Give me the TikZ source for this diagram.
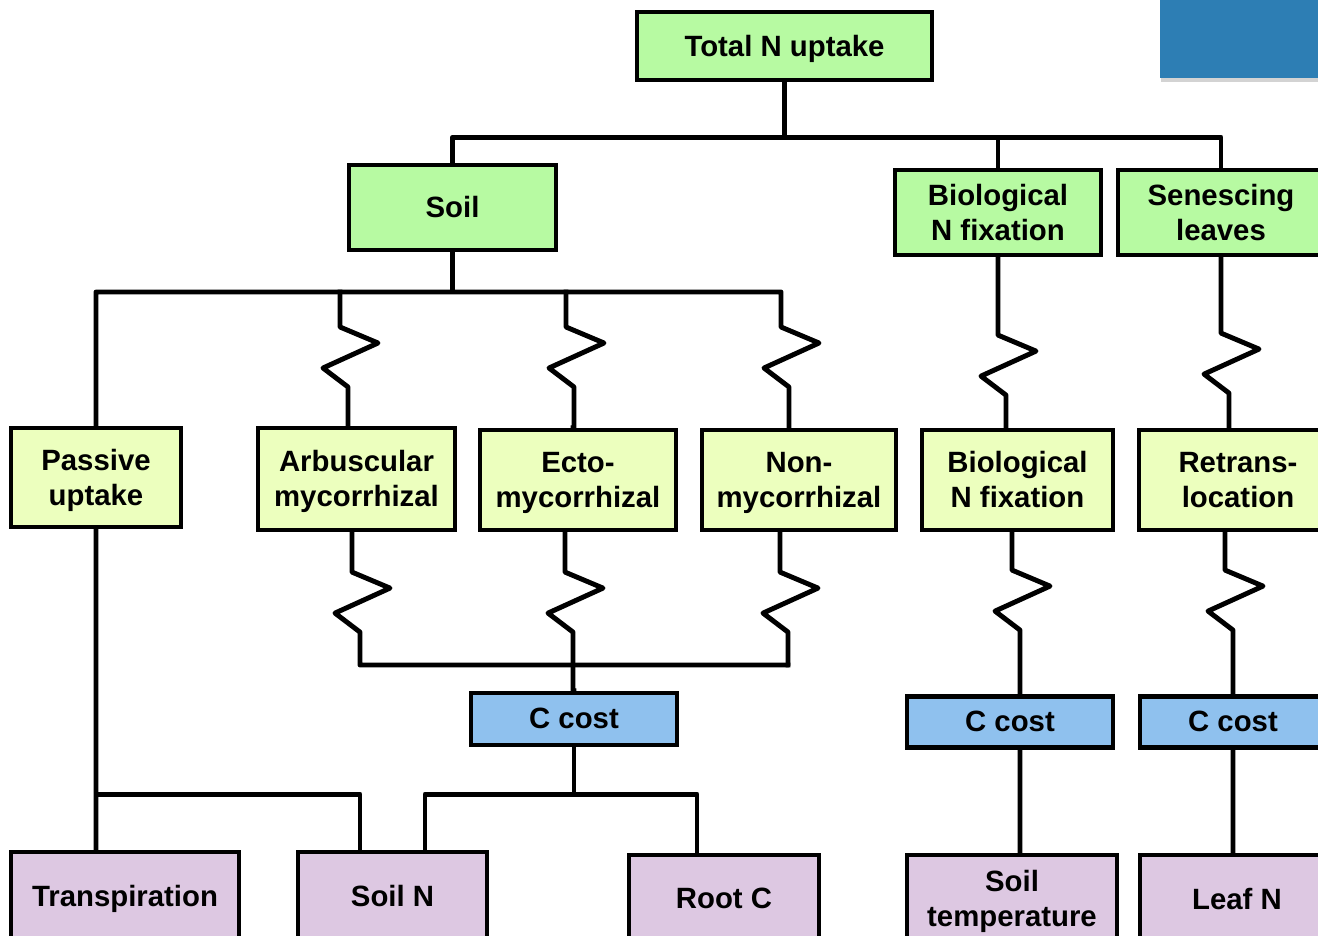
\documentclass[tikz,border=0pt]{standalone}
\usepackage{fontspec}
\setmainfont{Liberation Sans}
\usepackage{tikz}
\usepackage{xcolor}
\usetikzlibrary{shadows}

\definecolor{soilgreen}{RGB}{183,250,162}
\definecolor{pathyellow}{RGB}{236,255,190}
\definecolor{costblue}{RGB}{143,193,238}
\definecolor{driverlilac}{RGB}{221,200,226}
\definecolor{cornerblue}{RGB}{45,126,180}

\begin{document}
\begin{tikzpicture}[x=0.02cm,y=-0.02cm,
  every node/.style={font=\fontsize{16.7}{19.8}\selectfont\bfseries},
  box/.style={draw=black,line width=2.4pt,align=center,inner sep=0pt,text depth=0.5pt},
  source/.style={box,fill=soilgreen},
  pathway/.style={box,fill=pathyellow,minimum height=2cm},
  cost/.style={box,fill=costblue,minimum height=1.02cm},
  driver/.style={box,fill=driverlilac,minimum height=1.76cm},
  wire/.style={draw=black,line width=2.8pt,line cap=rect,line join=round},
  zz/.style={to path={-- ++(0,#1) -- ++(38,16) -- ++(-55,25) -- ++(25,19) |- (\tikztotarget)}}
]
  \useasboundingbox (0,0) rectangle (1318,936);
  \clip (0,0) rectangle (1318,936);

  % Corner panel
  \fill[cornerblue,drop shadow={shadow xshift=0.6pt,shadow yshift=-2pt,opacity=0.35}]
    (1160,-10) rectangle (1330,78);

  % Total and sources
  \node[source,minimum width=5.9cm,minimum height=1.36cm] (total) at (784.5,46) {Total N uptake};
  \node[source,minimum width=4.14cm,minimum height=1.7cm] (soil) at (452.5,207.5) {Soil};
  \node[source,minimum width=4.12cm,minimum height=1.7cm] (bnf) at (998,212.5) {Biological\\N fixation};
  \node[source,minimum width=4.12cm,minimum height=1.7cm] (senesc) at (1221,212.5) {Senescing\\leaves};

  % Uptake pathways
  \node[pathway,minimum width=3.4cm,minimum height=1.98cm] (passive) at (96,477.5) {Passive\\uptake};
  \node[pathway,minimum width=3.94cm,minimum height=2.04cm] (arb) at (356.5,479) {Arbuscular\\mycorrhizal};
  \node[pathway,minimum width=3.92cm] (ecto) at (578,480) {Ecto-\\mycorrhizal};
  \node[pathway,minimum width=3.88cm] (non) at (799,480) {Non-\\mycorrhizal};
  \node[pathway,minimum width=3.82cm] (bnf2) at (1017.5,480) {Biological\\N fixation};
  \node[pathway,minimum width=3.96cm] (retrans) at (1238,480) {Retrans-\\location};

  % C costs
  \node[cost,minimum width=4.12cm,minimum height=1.04cm] (ccost1) at (574,719) {C cost};
  \node[cost,minimum width=4.12cm] (ccost2) at (1010,722) {C cost};
  \node[cost,minimum width=3.72cm] (ccost3) at (1233,722) {C cost};

  % Drivers
  \node[driver,minimum width=4.56cm] (transp) at (125,896) {Transpiration};
  \node[driver,minimum width=3.78cm] (soilN) at (392.5,896) {Soil N};
  \node[driver,minimum width=3.8cm] (rootC) at (724,899) {Root C};
  \node[driver,minimum width=4.2cm] (soiltemp) at (1012,899) {Soil\\temperature};
  \node[driver,minimum width=3.88cm] (leafN) at (1237,899) {Leaf N};

  % Total to sources
  \draw[wire] (total.south) -- ++(0,55) coordinate (tb);
  \draw[wire] (soil.north) |- (tb) -| (senesc.north);
  \draw[wire] (tb) -| (bnf.north);

  % Soil to pathways
  \coordinate (sbA) at (340,292);
  \coordinate (sbE) at (566,292);
  \coordinate (sbN) at (781,292);
  \draw[wire] (soil.south) -- (soil.south |- sbN);
  \draw[wire] (passive.north) |- (sbN) to[zz=35] ([xshift=-0.2cm]non.north);
  \draw[wire] (sbA) to[zz=35] ([xshift=-0.17cm]arb.north);
  \draw[wire] (sbE) to[zz=35] ([xshift=-0.1cm]ecto.north);

  % Mycorrhizal pathways to C cost
  \coordinate (lbA) at (360,665);
  \coordinate (lbN) at (788,665);
  \draw[wire] ([xshift=-0.09cm]arb.south) to[zz=40] (lbA) -- (lbN);
  \draw[wire] ([xshift=-0.38cm]non.south) to[zz=40] (lbN);
  \draw[wire] ([xshift=-0.26cm]ecto.south) to[zz=40] (ccost1.north);

  % Fixation and retranslocation
  \draw[wire] (bnf.south) to[zz=78] ([xshift=-0.23cm]bnf2.north);
  \draw[wire] (senesc.south) to[zz=76] ([xshift=-0.18cm]retrans.north);
  \draw[wire] ([xshift=-0.11cm]bnf2.south) to[zz=38] ([xshift=0.2cm]ccost2.north);
  \draw[wire] ([xshift=-0.26cm]retrans.south) to[zz=38] (ccost3.north);

  % Costs to drivers
  \draw[wire] (ccost1.south) -- ++(0,47) coordinate (cb);
  \draw[wire] ([xshift=0.65cm]soilN.north) |- (cb) -| ([xshift=-0.54cm]rootC.north);
  \draw[wire] ([xshift=0.2cm]ccost2.south) -- ([xshift=0.16cm]soiltemp.north);
  \draw[wire] (ccost3.south) -- ([xshift=-0.08cm]leafN.north);

  % Passive uptake to drivers
  \draw[wire] (passive.south) -- ([xshift=-0.58cm]transp.north);
  \draw[wire] (passive.south |- cb) -| ([xshift=-0.65cm]soilN.north);
\end{tikzpicture}
\end{document}
